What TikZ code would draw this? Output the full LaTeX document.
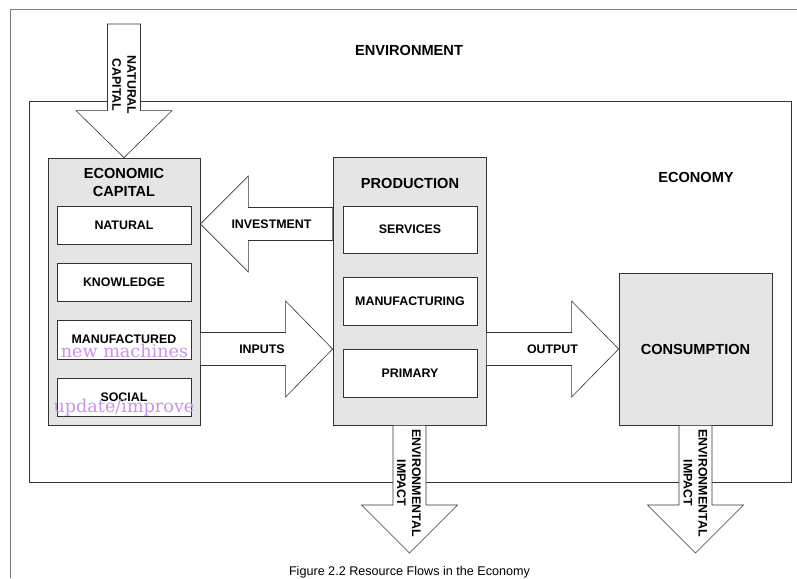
\documentclass[tikz,border=0pt]{standalone}
\usepackage{fontspec}
\setmainfont{Liberation Sans}
\newfontfamily\notefont{DejaVu Serif}
\usetikzlibrary{calc}

\definecolor{notepurple}{RGB}{204,146,236}

\tikzset{
  bigbox/.style={draw=black!80, fill=gray!20, line width=0.8pt},
  subbox/.style={draw=black!80, fill=white, line width=0.8pt, minimum width=134, inner sep=0pt},
  flow/.style={draw=black!80, fill=white, line width=0.6pt, line join=miter},
  title/.style={font=\fontsize{14.6}{18}\selectfont\bfseries, align=center},
  lbl/.style={font=\fontsize{12.4}{15}\selectfont\bfseries, align=center},
  note/.style={font=\fontsize{17.6}{20}\selectfont\notefont, text=notepurple, inner sep=0pt},
}

% block arrow from #2 to tip #3, head length #1
\newcommand{\flowarrow}[3][48]{%
  \coordinate (fh) at ($(#3)!#1pt!(#2)$);
  \draw[flow] ($(#2)!16.5pt!90:(#3)$) -- ($(fh)!16.5pt!90:(#3)$) -- ($(fh)!48pt!90:(#3)$)
    -- (#3) -- ($(fh)!48pt!-90:(#3)$) -- ($(fh)!16.5pt!-90:(#3)$) -- ($(#2)!16.5pt!-90:(#3)$) -- cycle;
}

\begin{document}
\begin{tikzpicture}[x=1pt, y=-1pt]
	\useasboundingbox (0,0) rectangle (797,578);
	
	% frames
	\draw[gray, line width=1pt] (10,578) |- (797,10);
	\node[draw=black!80, line width=0.8pt, minimum width=762, minimum height=381] (economy) at (410,291.5) {};
	\node[title] (envlabel) at (409,50) {ENVIRONMENT};
	\node[title] (ecolabel) at (696,177) {ECONOMY};
	
	% sectors
	\node[bigbox, minimum width=152, minimum height=267] (econ) at (124,291.5) {};
	\node[bigbox, minimum width=153, minimum height=268] (prod) at (409.5,291) {};
	\node[bigbox, minimum width=153, minimum height=152] (cons) at (695.5,349) {};
	
	% flows
	\coordinate (natsrc) at (124,24);
	\coordinate (inv-s) at (prod.west |- 0,224);
	\coordinate (inv-t) at (econ.east |- 0,224);
	\coordinate (in-s) at (econ.east |- cons);
	\coordinate (in-t) at (prod.west |- cons);
	\coordinate (out-s) at (prod.east |- cons);
	\coordinate (imp1) at (prod.south |- 0,553);
	\coordinate (imp2) at (cons.south |- 0,553);
	
	\flowarrow[47]{natsrc}{econ.north}
	\flowarrow{inv-s}{inv-t}
	\flowarrow[47]{in-s}{in-t}
	\flowarrow[47]{out-s}{cons.west}
	\flowarrow{prod.south}{imp1}
	\flowarrow{cons.south}{imp2}
	
	\node[lbl, rotate=-90] (natlabel) at (124,85) {NATURAL\\CAPITAL};
	\node[lbl] (invlabel) at (271.5,224) {INVESTMENT};
	\node[lbl] (inlabel) at (262,349) {INPUTS};
	\node[lbl] (outlabel) at (552.5,349) {OUTPUT};
	\node[lbl, rotate=-90] (imp1label) at (409,483) {ENVIRONMENTAL\\IMPACT};
	\node[lbl, rotate=-90] (imp2label) at (695.5,483) {ENVIRONMENTAL\\IMPACT};
	
	% economic capital
	\node[title] (econtitle) at (124,182) {ECONOMIC\\CAPITAL};
	\node[subbox, lbl, minimum height=38] (natural) at (124,225) {NATURAL};
	\node[subbox, lbl, minimum height=38] (knowledge) at (124,282) {KNOWLEDGE};
	\node[subbox, lbl, minimum height=39] (manufactured) at (124,339.5) {MANUFACTURED};
	\node[subbox, lbl, minimum height=38] (social) at (124,397) {SOCIAL};
	\node[note, anchor=base] (note1) at (124.5,357) {new machines};
	\node[note, anchor=base] (note2) at (124,412) {update/improve};
	
	% production
	\node[title] (prodtitle) at (410,183) {PRODUCTION};
	\node[subbox, lbl, minimum height=47] (services) at (410,229.5) {SERVICES};
	\node[subbox, lbl, minimum height=48] (manufacturing) at (410,301) {MANUFACTURING};
	\node[subbox, lbl, minimum height=48] (primary) at (410,373) {PRIMARY};
	
	% consumption
	\node[title] (constitle) at (cons) {CONSUMPTION};
	
	\node[font=\fontsize{12.6}{15}\selectfont] (caption) at (409.5,572) {Figure 2.2 Resource Flows in the Economy};
	
\end{tikzpicture}
\end{document}
